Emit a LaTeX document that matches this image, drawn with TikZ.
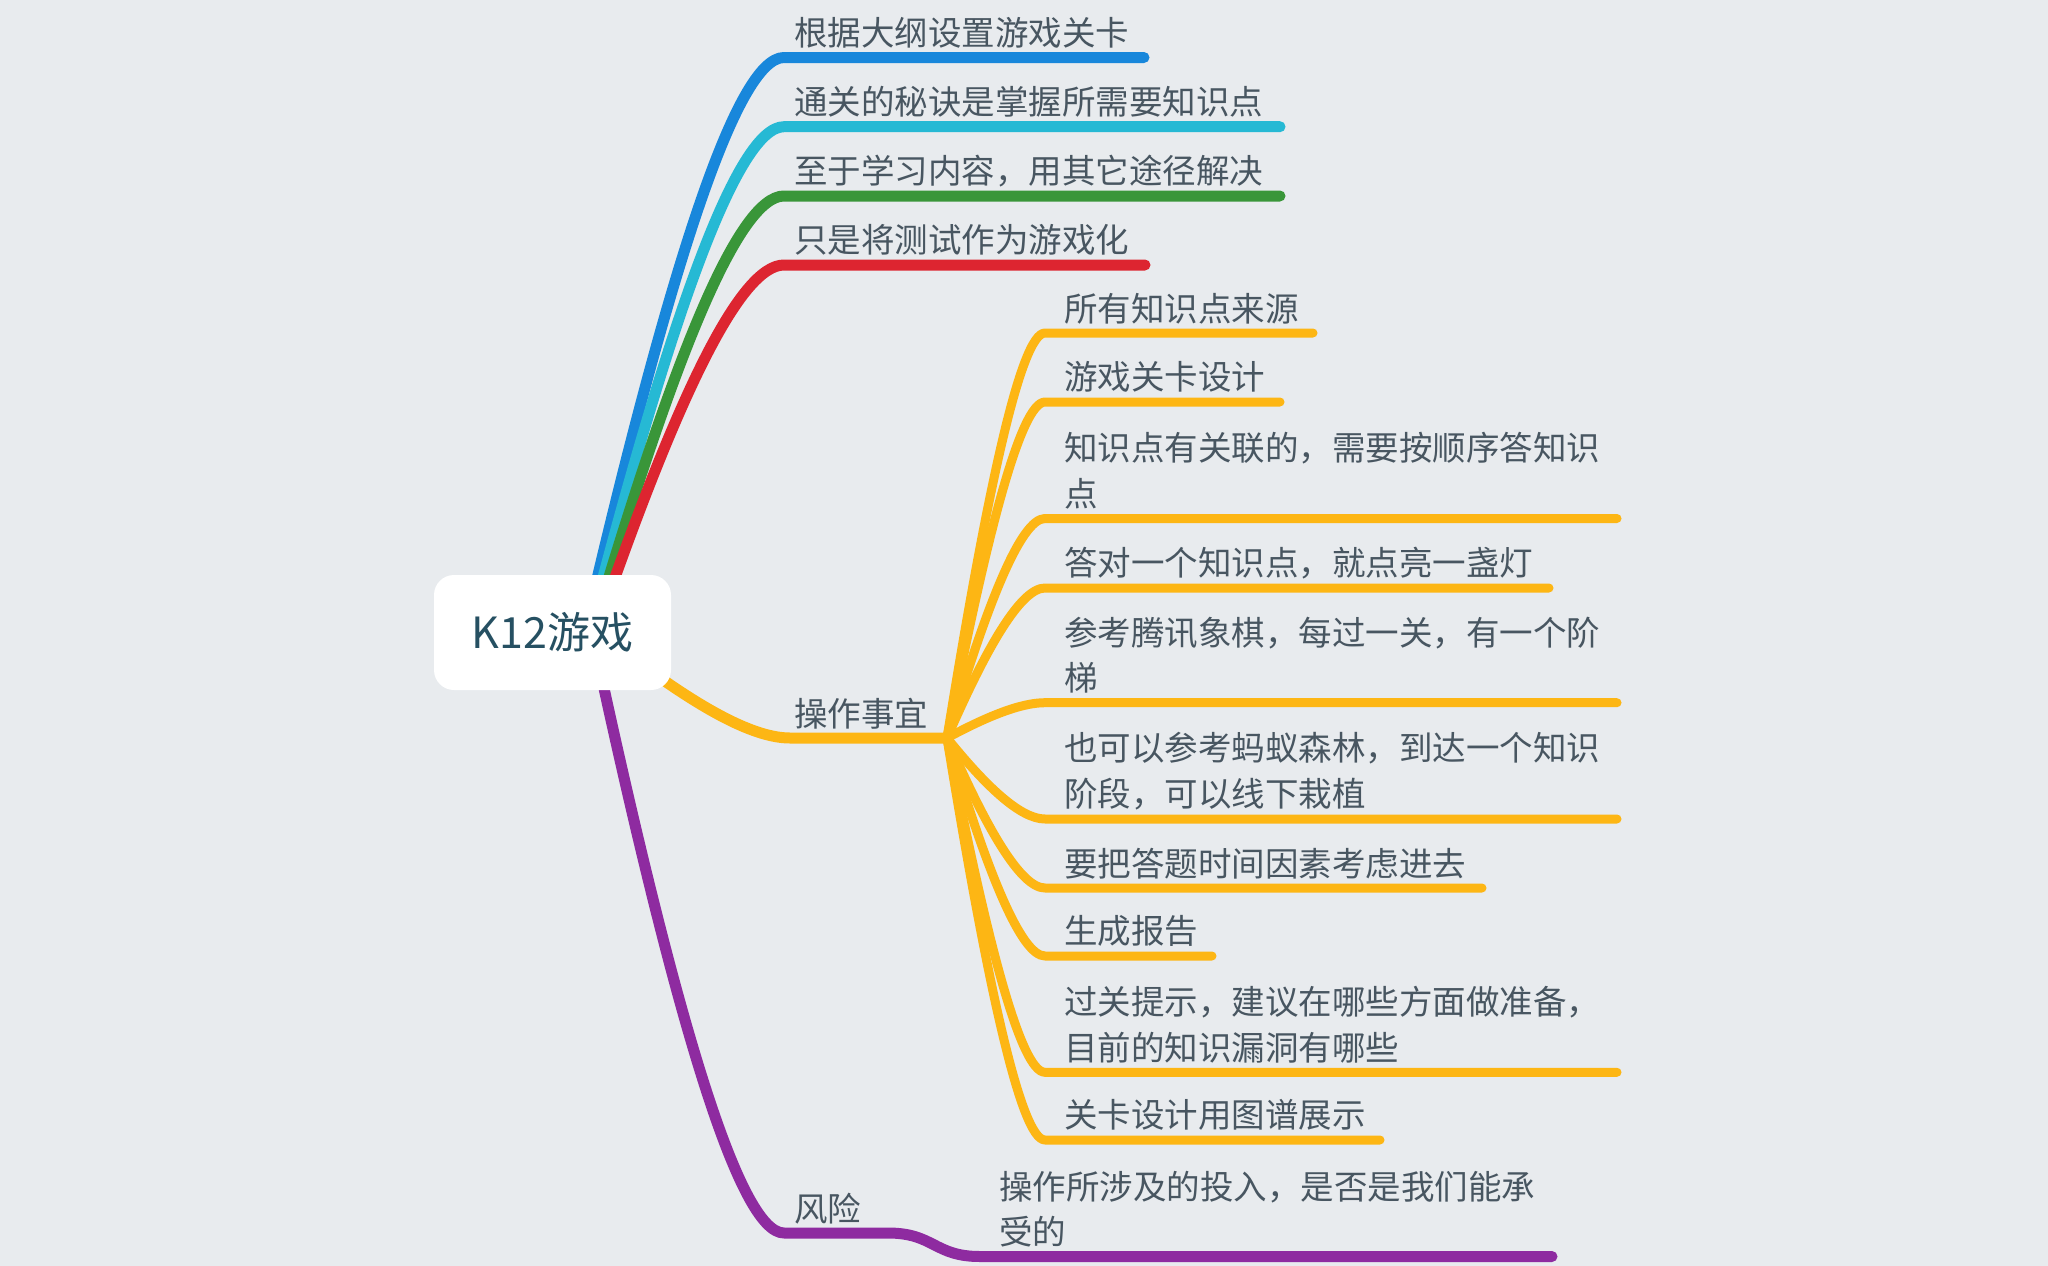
\documentclass[tikz,border=0pt]{standalone}
\usepackage{fontspec}
\setmainfont{Noto Sans CJK SC}
\usetikzlibrary{calc}
\definecolor{bg}{RGB}{232,235,238}
\definecolor{cblue}{RGB}{24,135,219}
\definecolor{ccyan}{RGB}{38,185,212}
\definecolor{cgreen}{RGB}{57,150,57}
\definecolor{cred}{RGB}{221,37,48}
\definecolor{corange}{RGB}{253,182,20}
\definecolor{cpurple}{RGB}{142,43,160}
\definecolor{txt}{RGB}{72,86,97}
\definecolor{ctxt}{RGB}{38,80,98}
\tikzset{
  bcurve/.style={to path={let \p1=(\tikztostart), \p2=(\tikztotarget) in
    .. controls ({\x1+0.4*(\x2-\x1)},{\y1+0.6*(\y2-\y1)}) and ({\x1+0.75*(\x2-\x1)},{\y2}) .. (\tikztotarget)}},
  mainline/.style={line width=11pt, line cap=round, line join=round},
  subline/.style={line width=9pt, line cap=round, line join=round, draw=corange},
  lbl/.style={anchor=south west, inner sep=0pt, text=txt, align=left,
    font=\fontsize{33.5}{45.7}\selectfont},
  rootbox/.style={fill=white, rounded corners=20pt, minimum width=237pt, minimum height=115pt,
    inner sep=0pt, text=ctxt, font=\fontsize{43}{50}\selectfont},
}
\begin{document}
\begin{tikzpicture}[x=1pt,y=-1pt]
\fill[bg] (0,0) rectangle (2048,1266);
\useasboundingbox (0,0) rectangle (2048,1266);

% start points inside root
\coordinate (sb) at (592,600);
\coordinate (sc) at (597,600);
\coordinate (sg) at (602,600);
\coordinate (sr) at (607,600);
\coordinate (so) at (652,672);
\coordinate (sp) at (600,670);

% corners and ends of main branches
\coordinate (cb) at (784,57.5);   \coordinate (eb) at (1144,57.5);
\coordinate (cc) at (784,126.7);  \coordinate (ec) at (1280,126.7);
\coordinate (cg) at (784,196);    \coordinate (eg) at (1280,196);
\coordinate (cr) at (784,265);    \coordinate (er) at (1145,265);
\coordinate (co) at (790,738);    \coordinate (hub) at (947,738);
\coordinate (cp) at (784,1233);   \coordinate (mp) at (888,1233);
\coordinate (cp2) at (980,1256.5); \coordinate (ep) at (1552,1256.5);

\draw[mainline, cblue] (sb) to[bcurve] (cb) -- (eb);
\draw[mainline, ccyan] (sc) to[bcurve] (cc) -- (ec);
\draw[mainline, cgreen] (sg) to[bcurve] (cg) -- (eg);
\draw[mainline, cred] (sr) to[bcurve] (cr) -- (er);
\draw[mainline, corange] (so) to[bcurve] (co) -- (hub);
\draw[mainline, cpurple] (sp) to[bcurve] (cp) -- (mp)
   .. controls (934,1233) and (934,1256.5) .. (cp2) -- (ep);

% sub branches
\coordinate (ka) at (1045,333);    \coordinate (la) at (1313,333);
\coordinate (kb) at (1045,402);    \coordinate (lb) at (1280,402);
\coordinate (kc) at (1045,518.5);  \coordinate (lc) at (1617,518.5);
\coordinate (kd) at (1045,588);    \coordinate (ld) at (1549,588);
\coordinate (ke) at (1045,702.7);  \coordinate (le) at (1617,702.7);
\coordinate (kf) at (1045,819);    \coordinate (lf) at (1617,819);
\coordinate (kg) at (1045,888);    \coordinate (lg) at (1482,888);
\coordinate (kh) at (1045,956);    \coordinate (lh) at (1212,956);
\coordinate (ki) at (1045,1072.3); \coordinate (li) at (1617,1072.3);
\coordinate (kj) at (1045,1140);   \coordinate (lj) at (1380,1140);

\foreach \k/\l in {ka/la,kb/lb,kc/lc,kd/ld,ke/le,kf/lf,kg/lg,kh/lh,ki/li,kj/lj}
  \draw[subline] (hub) to[bcurve] (\k) -- (\l);

% root
\node[rootbox] (root) at (552.5,632.5) {K12游戏};

% labels of main branches
\node[lbl] (tb) at (794,48.5) {根据大纲设置游戏关卡};
\node[lbl] (tc) at (794,117.7) {通关的秘诀是掌握所需要知识点};
\node[lbl] (tg) at (794,187) {至于学习内容，用其它途径解决};
\node[lbl] (tr) at (794,256) {只是将测试作为游戏化};
\node[lbl] (to) at (794,729) {操作事宜};
\node[lbl] (tp) at (794,1224) {风险};

% sub labels
\node[lbl] (na) at (1064,324) {所有知识点来源};
\node[lbl] (nb) at (1064,393) {游戏关卡设计};
\node[lbl] (nc) at (1064,509.5) {知识点有关联的，需要按顺序答知识\\点};
\node[lbl] (nd) at (1064,579) {答对一个知识点，就点亮一盏灯};
\node[lbl] (ne) at (1064,693.7) {参考腾讯象棋，每过一关，有一个阶\\梯};
\node[lbl] (nf) at (1064,810) {也可以参考蚂蚁森林，到达一个知识\\阶段，可以线下栽植};
\node[lbl] (ng) at (1064,879) {要把答题时间因素考虑进去};
\node[lbl] (nh) at (1064,947) {生成报告};
\node[lbl] (ni) at (1064,1063.3) {过关提示，建议在哪些方面做准备，\\目前的知识漏洞有哪些};
\node[lbl] (nj) at (1064,1131) {关卡设计用图谱展示};
\node[lbl] (np) at (999,1247.5) {操作所涉及的投入，是否是我们能承\\受的};
\end{tikzpicture}
\end{document}
